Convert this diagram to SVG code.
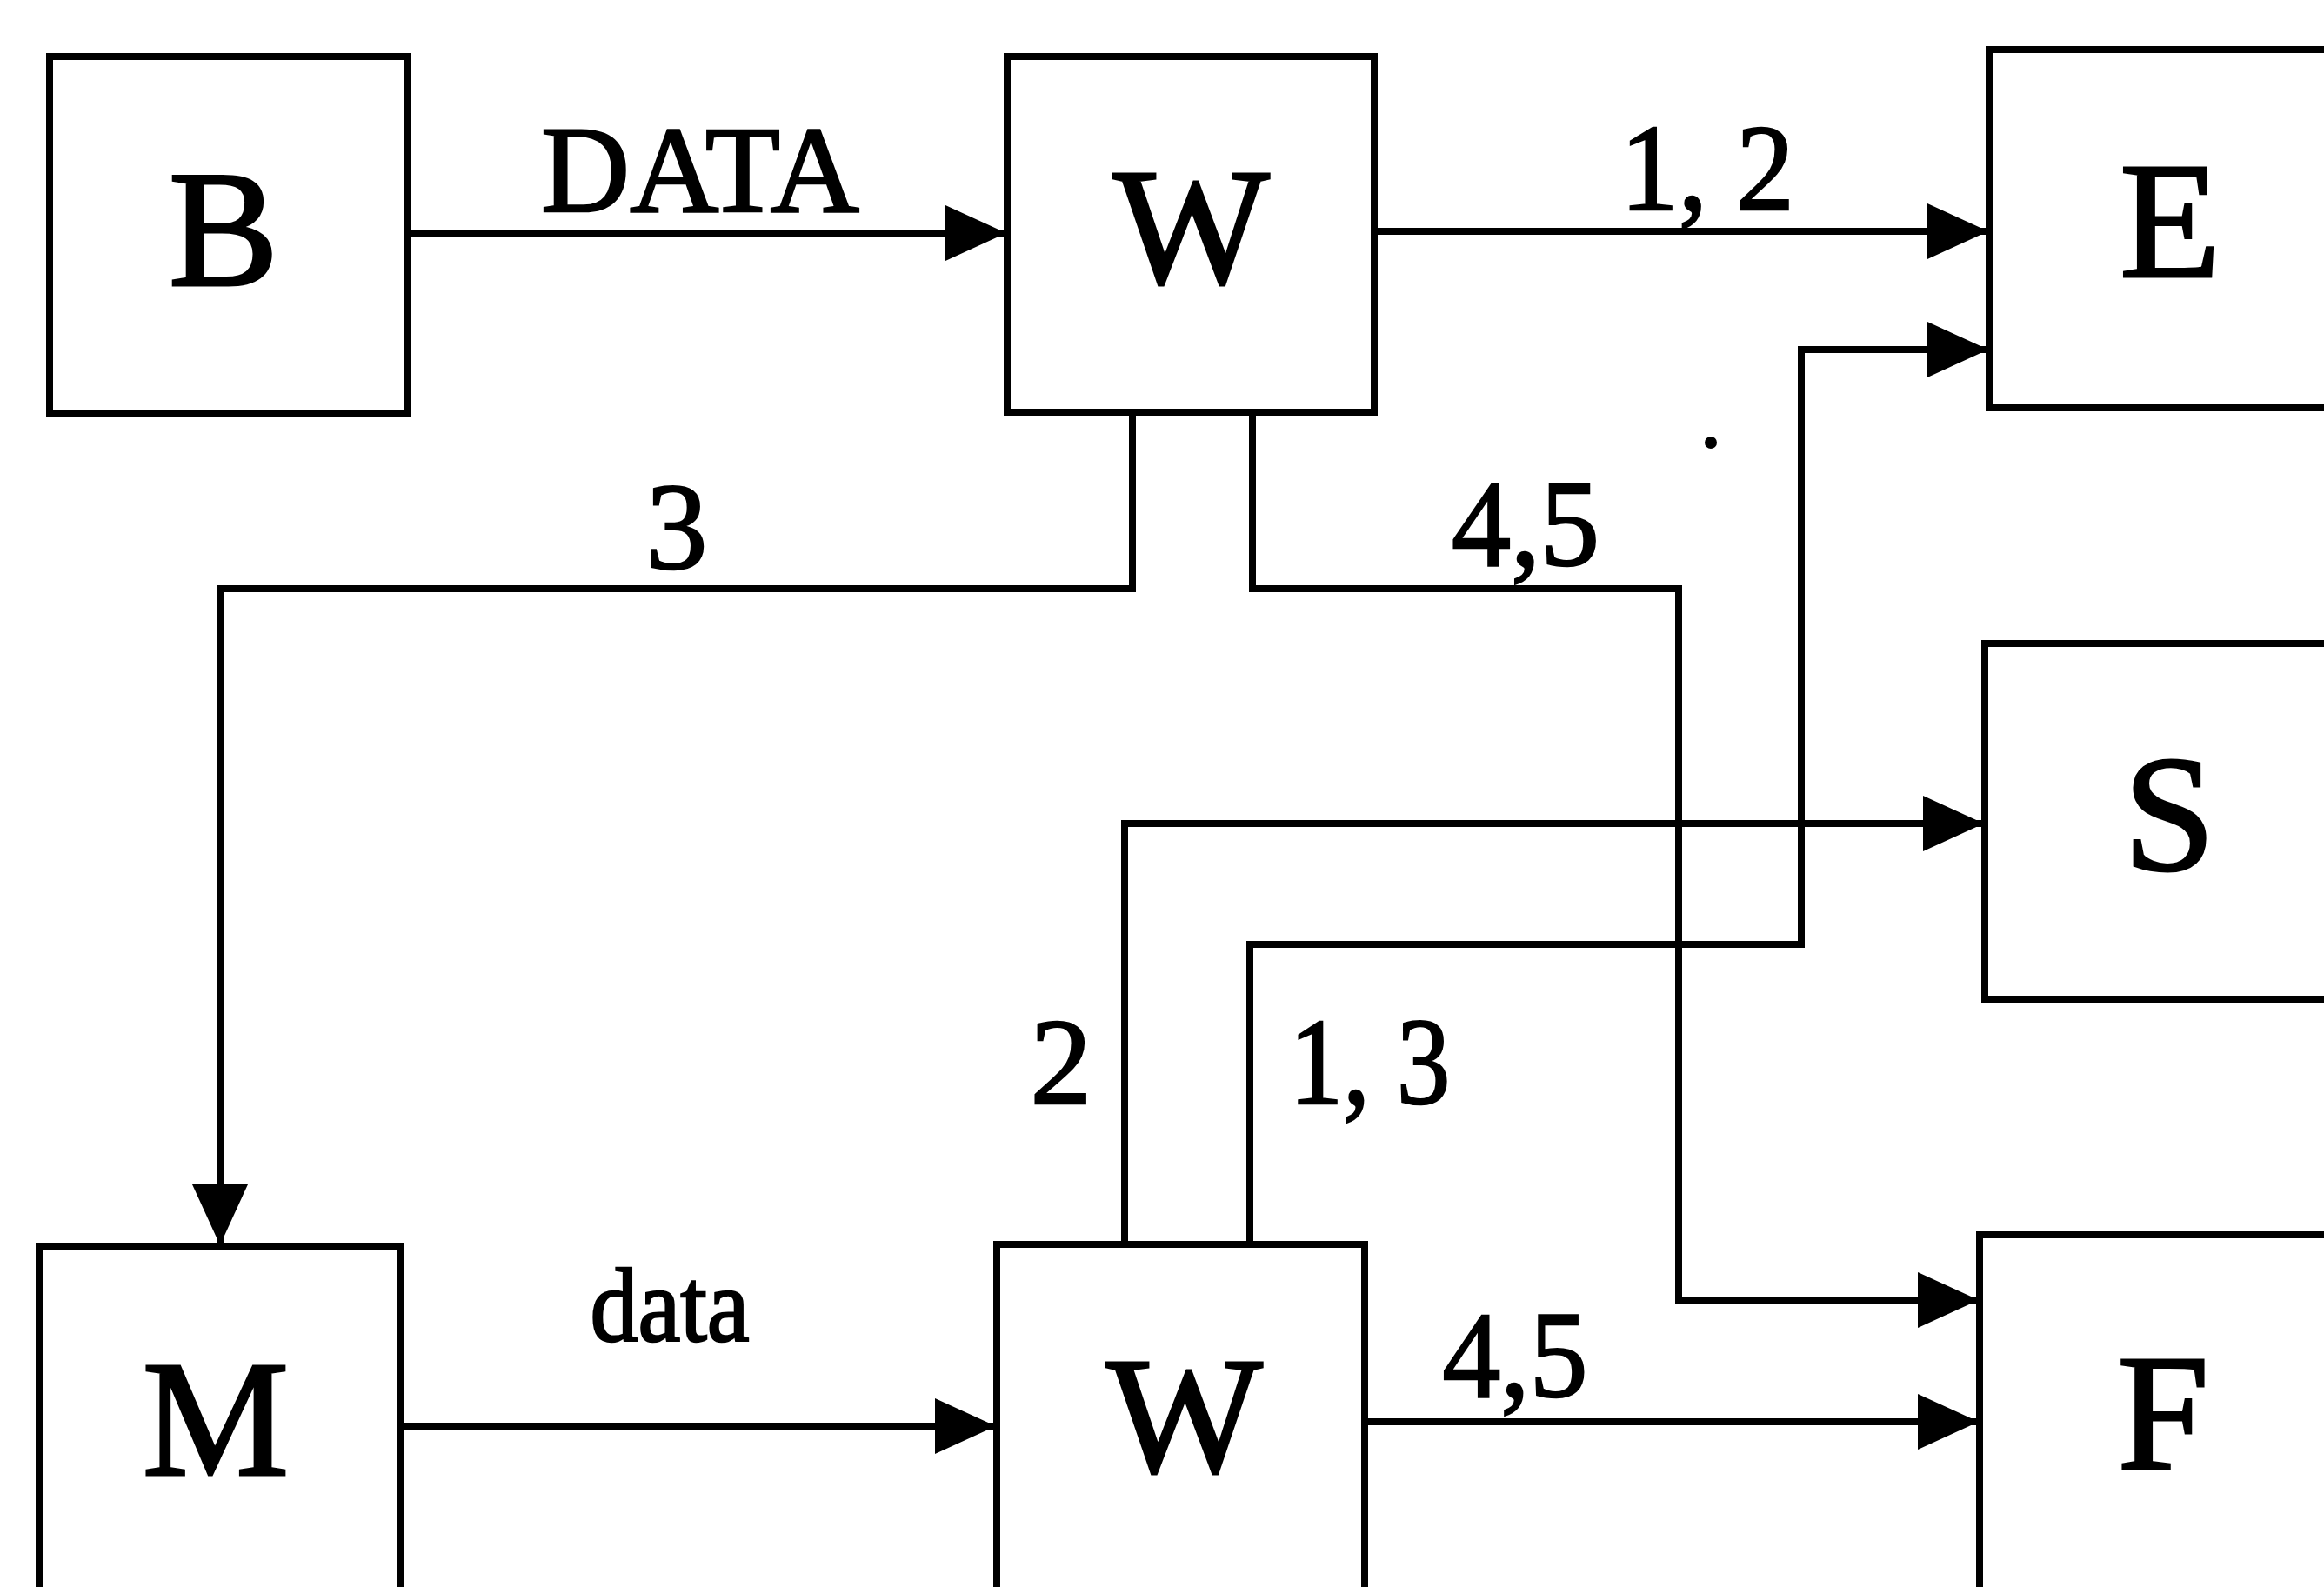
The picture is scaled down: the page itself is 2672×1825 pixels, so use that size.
<svg xmlns="http://www.w3.org/2000/svg" width="2672" height="1825" viewBox="0 0 2672 1825">
  <style>
    .box { fill: #ffffff; stroke: #000000; stroke-width: 8; }
    .node-label { font-family: "Liberation Serif", "Times New Roman", serif; font-size: 190px; fill: #000000; stroke: #000000; stroke-width: 3; text-anchor: middle; }
    .edge-label { font-family: "Liberation Serif", "Times New Roman", serif; font-size: 142px; fill: #000000; stroke: #000000; stroke-width: 2.5; text-anchor: middle; }
    .conn { fill: none; stroke: #000000; stroke-width: 8; stroke-linejoin: miter; marker-end: url(#arrow); }
  </style>
  <defs>
    <marker id="arrow" markerUnits="userSpaceOnUse" markerWidth="70" markerHeight="64" refX="68" refY="32" orient="auto">
      <path d="M0,0 L70,32 L0,64 Z" fill="#000000"/>
    </marker>
  </defs>
  <rect x="0" y="0" width="2672" height="1825" fill="#ffffff"/>

  <g id="node-B">
    <rect class="box" x="57" y="65" width="411" height="411"/>
    <text class="node-label" x="257" y="328">B</text>
  </g>
  <g id="node-W-top">
    <rect class="box" x="1158" y="65" width="422" height="409"/>
    <text class="node-label" x="1370" y="325">W</text>
  </g>
  <g id="node-E">
    <rect class="box" x="2287" y="57" width="500" height="412"/>
    <text class="node-label" x="2495" y="318">E</text>
  </g>
  <g id="node-S">
    <rect class="box" x="2282" y="740" width="500" height="409"/>
    <text class="node-label" x="2494" y="1000">S</text>
  </g>
  <g id="node-M">
    <rect class="box" x="45" y="1433" width="415" height="500"/>
    <text class="node-label" x="248" y="1696">M</text>
  </g>
  <g id="node-W-bottom">
    <rect class="box" x="1146" y="1431" width="423" height="500"/>
    <text class="node-label" x="1362" y="1692">W</text>
  </g>
  <g id="node-F">
    <rect class="box" x="2276" y="1420" width="500" height="500"/>
    <text class="node-label" x="2487" y="1689">F</text>
  </g>

  <g id="connectors">
    <path class="conn" d="M468,268 H1155"/>
    <path class="conn" d="M1580,266 H2284"/>
    <path class="conn" d="M1302,474 V677 H253 V1430"/>
    <path class="conn" d="M1440,474 V677 H1930 V1495 H2273"/>
    <path class="conn" d="M460,1640 H1143"/>
    <path class="conn" d="M1569,1635 H2273"/>
    <path class="conn" d="M1293,1431 V947 H2279"/>
    <path class="conn" d="M1437,1431 V1086 H2071 V402 H2284"/>
  </g>

  <g id="labels">
    <text class="edge-label" x="805" y="243" textLength="366" lengthAdjust="spacingAndGlyphs">DATA</text>
    <text class="edge-label" x="1963" y="241" textLength="200" lengthAdjust="spacingAndGlyphs">1, 2</text>
    <text class="edge-label" x="778" y="654">3</text>
    <text class="edge-label" x="1754" y="650" textLength="170" lengthAdjust="spacingAndGlyphs">4,5</text>
    <text class="edge-label" x="1220" y="1269">2</text>
    <text class="edge-label" x="1575" y="1269" textLength="185" lengthAdjust="spacingAndGlyphs">1, 3</text>
    <text class="edge-label" x="770" y="1542" style="font-size:120px" textLength="183" lengthAdjust="spacingAndGlyphs">data</text>
    <text class="edge-label" x="1742" y="1606" textLength="167" lengthAdjust="spacingAndGlyphs">4,5</text>
  </g>
  <circle cx="1967" cy="509" r="7" fill="#000000"/>
</svg>
